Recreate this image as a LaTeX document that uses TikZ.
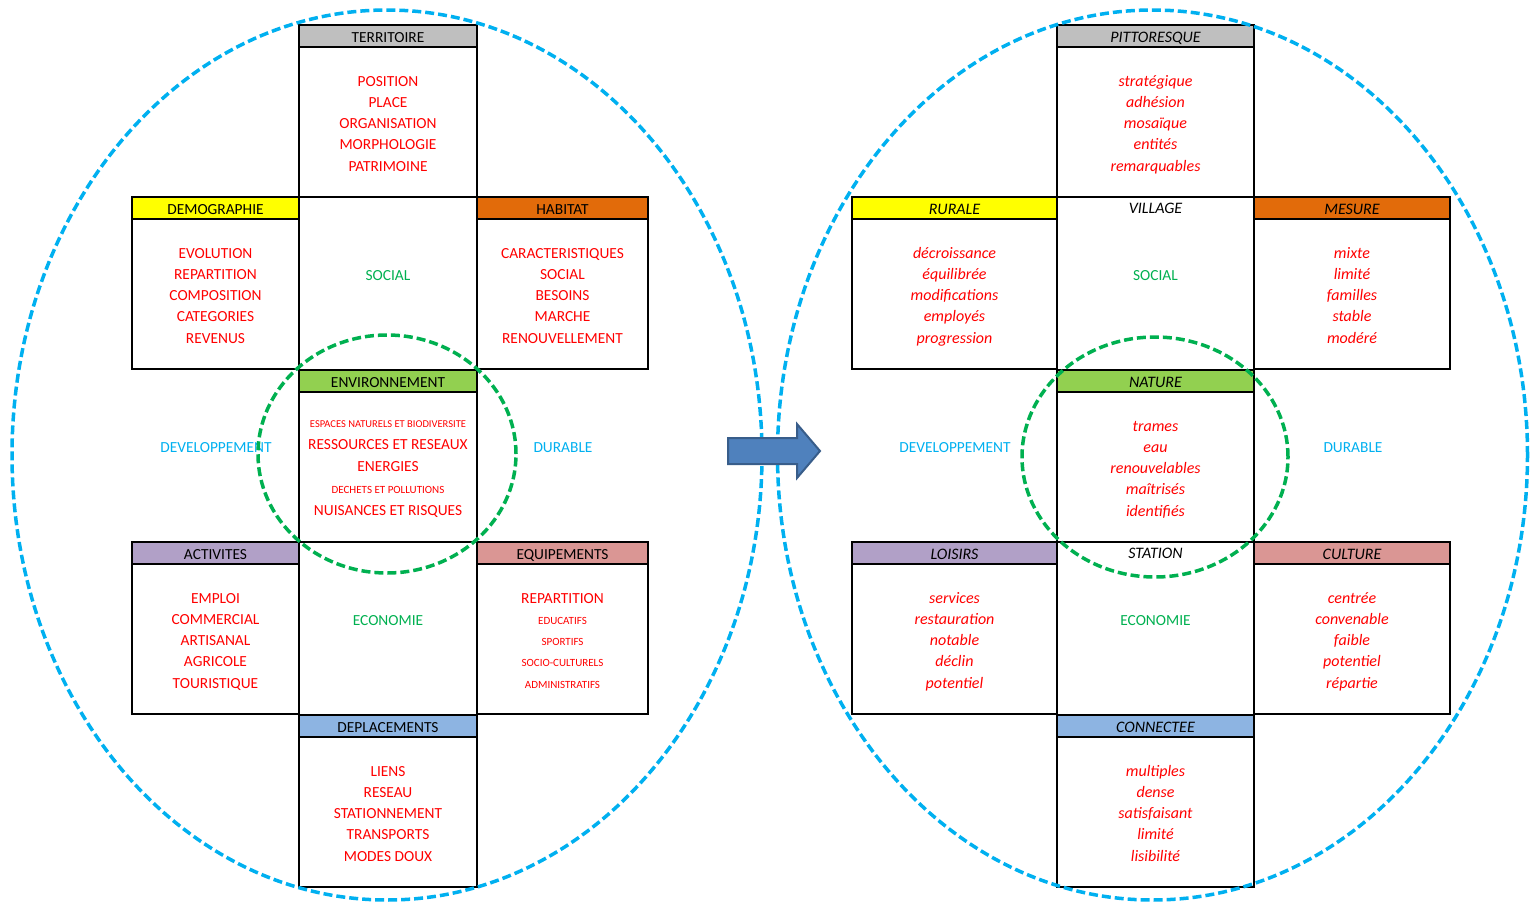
\documentclass[tikz,border=0pt]{standalone}
\usepackage{fontspec}
\setmainfont{Carlito}
\usetikzlibrary{positioning}

\definecolor{gristete}{HTML}{BFBFBF}
\definecolor{jaunetete}{HTML}{FFFF00}
\definecolor{orangetete}{HTML}{E26B0A}
\definecolor{verttete}{HTML}{92D050}
\definecolor{violettete}{HTML}{B1A0C7}
\definecolor{rosetete}{HTML}{DA9694}
\definecolor{bleutete}{HTML}{8DB4E2}
\definecolor{rouge}{HTML}{FF0000}
\definecolor{vert}{HTML}{00B050}
\definecolor{bleu}{HTML}{00B0F0}
\definecolor{fleche}{HTML}{4F81BD}
\definecolor{flechebord}{HTML}{385D8A}

\newcommand{\petit}{\fontsize{10.5}{12}\selectfont}
\newcommand{\moyen}{\fontsize{11}{13}\selectfont}

\begin{document}
\begin{tikzpicture}[x=1pt,y=-1pt,
    head node/.style={draw, line width=2.8pt, inner sep=0pt, outer sep=0pt, minimum height=22pt, text height=13.5pt, text depth=0pt, font=\fontsize{15.4}{18}\selectfont},
    body node/.style={draw, line width=2.8pt, inner sep=0pt, outer sep=0pt, minimum height=150pt, align=center, text=rouge, font=\fontsize{15.4}{21.3}\selectfont, text depth=1.7pt},
    cell node/.style={draw, line width=2.8pt, inner sep=0pt, outer sep=0pt, minimum height=173pt},
    word node/.style={text height=11.5pt, text depth=0pt, font=\fontsize{15.4}{18}\selectfont},
    ital/.style={font=\fontsize{16}{21.3}\selectfont\itshape},
    big ring/.style={draw=bleu, line width=3.5pt, dash pattern=on 9pt off 4pt},
    small ring/.style={draw=vert, line width=3.5pt, dash pattern=on 9pt off 4pt}]

    \useasboundingbox (0,0) rectangle (1532,905);

    % left: diagnostic
    \node[head node, fill=gristete, minimum width=178pt] (territoire) at (388,36) {TERRITOIRE};
    \node[body node, minimum width=178pt, below=0pt of territoire] (territoire-b) {\strut POSITION\\PLACE\\ORGANISATION\\MORPHOLOGIE\\PATRIMOINE};
    \node[cell node, minimum width=178pt, below=0pt of territoire-b] (social) {};
    \node[word node, text=vert] (social-t) at (388,275) {SOCIAL};

    \node[head node, fill=jaunetete, minimum width=167pt] (demographie) at (215.5,208) {DEMOGRAPHIE};
    \node[body node, minimum width=167pt, below=0pt of demographie] (demographie-b) {\strut EVOLUTION\\REPARTITION\\COMPOSITION\\CATEGORIES\\REVENUS};
    \node[head node, fill=orangetete, minimum width=171pt] (habitat) at (562.5,208) {HABITAT};
    \node[body node, minimum width=171pt, below=0pt of habitat] (habitat-b) {\strut CARACTERISTIQUES\\SOCIAL\\BESOINS\\MARCHE\\RENOUVELLEMENT};

    \node[head node, fill=verttete, minimum width=178pt] (environnement) at (388,381) {ENVIRONNEMENT};
    \node[body node, font=\fontsize{15.4}{22}\selectfont, text depth=6.6pt, minimum width=178pt, below=0pt of environnement] (environnement-b) {\strut{\petit ESPACES NATURELS ET BIODIVERSITE}\\RESSOURCES ET RESEAUX\\ENERGIES\\{\moyen DECHETS ET POLLUTIONS}\\NUISANCES ET RISQUES};
    \node[word node, text=bleu] (developpement) at (216,447) {DEVELOPPEMENT};
    \node[word node, text=bleu] (durable) at (563,447) {DURABLE};

    \node[head node, fill=violettete, minimum width=167pt] (activites) at (215.5,553) {ACTIVITES};
    \node[body node, minimum width=167pt, below=0pt of activites] (activites-b) {\strut EMPLOI\\COMMERCIAL\\ARTISANAL\\AGRICOLE\\TOURISTIQUE};
    \node[cell node, minimum width=178pt] (economie) at (388,628.5) {};
    \node[word node, text=vert] (economie-t) at (388,620) {ECONOMIE};
    \node[head node, fill=rosetete, minimum width=171pt] (equipements) at (562.5,553) {EQUIPEMENTS};
    \node[body node, minimum width=171pt, below=0pt of equipements] (equipements-b) {\strut REPARTITION\\{\moyen EDUCATIFS}\\{\moyen SPORTIFS}\\{\moyen SOCIO-CULTURELS}\\{\moyen ADMINISTRATIFS}};

    \node[head node, fill=bleutete, minimum width=178pt] (deplacements) at (388,726) {DEPLACEMENTS};
    \node[body node, minimum width=178pt, below=0pt of deplacements] (deplacements-b) {\strut LIENS\\RESEAU\\STATIONNEMENT\\TRANSPORTS\\MODES DOUX};

    % right: enjeux
    \node[head node, ital, fill=gristete, minimum width=197pt] (pittoresque) at (1155.5,36) {PITTORESQUE};
    \node[body node, ital, minimum width=197pt, below=0pt of pittoresque] (pittoresque-b) {\strut stratégique\\adhésion\\mosaïque\\entités\\remarquables};
    \node[cell node, minimum width=197pt, below=0pt of pittoresque-b] (village) {};
    \node[word node, ital] (village-t) at (1155.5,208) {VILLAGE};
    \node[word node, text=vert] (social2-t) at (1155.5,275) {SOCIAL};

    \node[head node, ital, fill=jaunetete, minimum width=205pt] (rurale) at (954.5,208) {RURALE};
    \node[body node, ital, minimum width=205pt, below=0pt of rurale] (rurale-b) {\strut décroissance\\équilibrée\\modifications\\employés\\progression};
    \node[head node, ital, fill=orangetete, minimum width=196pt] (mesure) at (1352,208) {MESURE};
    \node[body node, ital, minimum width=196pt, below=0pt of mesure] (mesure-b) {\strut mixte\\limité\\familles\\stable\\modéré};

    \node[head node, ital, fill=verttete, minimum width=197pt] (nature) at (1155.5,381) {NATURE};
    \node[body node, ital, minimum width=197pt, below=0pt of nature] (nature-b) {\strut trames\\eau\\renouvelables\\maîtrisés\\identifiés};
    \node[word node, text=bleu] (developpement2) at (955,447) {DEVELOPPEMENT};
    \node[word node, text=bleu] (durable2) at (1353,447) {DURABLE};

    \node[head node, ital, fill=violettete, minimum width=205pt] (loisirs) at (954.5,553) {LOISIRS};
    \node[body node, ital, minimum width=205pt, below=0pt of loisirs] (loisirs-b) {\strut services\\restauration\\notable\\déclin\\potentiel};
    \node[cell node, minimum width=197pt] (station) at (1155.5,628.5) {};
    \node[word node, ital] (station-t) at (1155.5,553) {STATION};
    \node[word node, text=vert] (economie2-t) at (1155.5,620) {ECONOMIE};
    \node[head node, ital, fill=rosetete, minimum width=196pt] (culture) at (1352,553) {CULTURE};
    \node[body node, ital, minimum width=196pt, below=0pt of culture] (culture-b) {\strut centrée\\convenable\\faible\\potentiel\\répartie};

    \node[head node, ital, fill=bleutete, minimum width=197pt] (connectee) at (1155.5,726) {CONNECTEE};
    \node[body node, ital, minimum width=197pt, below=0pt of connectee] (connectee-b) {\strut multiples\\dense\\satisfaisant\\limité\\lisibilité};

    % rings
    \draw[big ring] (387,455) ellipse [x radius=375pt, y radius=445pt];
    \draw[big ring] (1152.5,455) ellipse [x radius=375pt, y radius=445pt];
    \draw[small ring] (387,454) ellipse [x radius=129pt, y radius=119pt];
    \draw[small ring] (1155,457) ellipse [x radius=133pt, y radius=120pt];

    % arrow
    \draw[fill=fleche, draw=flechebord, line width=2pt, line join=miter]
        (728,438) -- (797,438) -- (797,424) -- (820,451) -- (797,478) -- (797,464) -- (728,464) -- cycle;
\end{tikzpicture}
\end{document}
